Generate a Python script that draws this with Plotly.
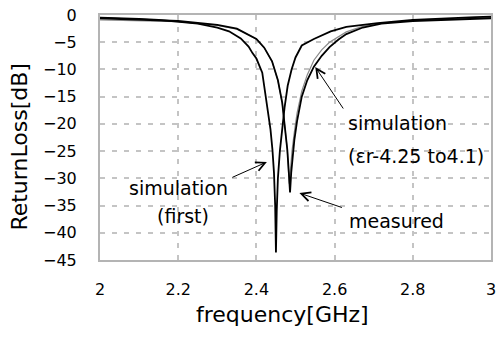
import plotly.graph_objects as go

# Return loss of the antenna: first simulation, re-simulation with lower permittivity, measurement
freq_sim_first = [2.00, 2.05, 2.10, 2.15, 2.20, 2.25, 2.30, 2.33, 2.36, 2.38, 2.39, 2.40,
                  2.415, 2.428, 2.436, 2.441, 2.445, 2.448, 2.450, 2.452, 2.455, 2.460,
                  2.466, 2.472, 2.480, 2.490, 2.500, 2.516, 2.547, 2.59, 2.63, 2.71,
                  2.80, 2.88, 2.96, 3.00]
rl_sim_first = [-0.5, -0.55, -0.7, -0.9, -1.2, -1.6, -2.3, -3.0, -4.3, -5.8, -7.0, -8.0,
                -10.6, -16.8, -21.0, -24.7, -29.0, -35.0, -43.6, -36.0, -30.0, -25.0,
                -21.0, -17.0, -13.0, -10.0, -7.8, -5.6, -4.4, -3.0, -2.2, -1.5,
                -0.9, -0.6, -0.4, -0.3]

freq_sim_er41 = [2.00, 2.10, 2.20, 2.30, 2.35, 2.40, 2.42, 2.44, 2.455, 2.466, 2.473, 2.479,
                 2.482, 2.484, 2.487, 2.491, 2.497, 2.504, 2.516, 2.530, 2.547, 2.567,
                 2.587, 2.61, 2.63, 2.672, 2.72, 2.80, 2.90, 3.00]
rl_sim_er41 = [-0.9, -1.0, -1.2, -1.9, -2.6, -4.4, -6.0, -8.5, -12.0, -16.1, -20.5, -24.7,
               -28.5, -31.0, -28.5, -25.0, -21.5, -18.0, -14.0, -11.0, -8.3, -6.4,
               -5.0, -3.9, -3.1, -2.1, -1.5, -1.0, -0.7, -0.5]

freq_measured = [2.00, 2.10, 2.20, 2.30, 2.35, 2.40, 2.42, 2.44, 2.455, 2.466, 2.473, 2.479,
                 2.483, 2.486, 2.489, 2.493, 2.497, 2.504, 2.516, 2.530, 2.547, 2.567,
                 2.587, 2.61, 2.63, 2.672, 2.72, 2.80, 2.90, 3.00]
rl_measured = [-0.6, -0.8, -1.1, -1.8, -2.5, -4.4, -6.0, -8.5, -12.0, -16.1, -20.5, -24.7,
               -29.0, -32.6, -29.0, -26.0, -23.0, -19.5, -15.0, -12.0, -9.5, -7.5,
               -5.9, -4.5, -3.5, -2.3, -1.6, -1.1, -0.8, -0.6]

x_ticks = [2.0, 2.2, 2.4, 2.6, 2.8, 3.0]
x_tick_text = ["2", "2.2", "2.4", "2.6", "2.8", "3"]
y_ticks = [0, -5, -10, -15, -20, -25, -30, -35, -40, -45]

FONT = "DejaVu Sans"

fig = go.Figure()
fig.add_trace(go.Scatter(x=freq_sim_er41, y=rl_sim_er41, mode="lines",
                         line=dict(color="#8a8a8a", width=1.2), name="simulation (εr 4.1)"))
fig.add_trace(go.Scatter(x=freq_measured, y=rl_measured, mode="lines",
                         line=dict(color="black", width=1.8), name="measured"))
fig.add_trace(go.Scatter(x=freq_sim_first, y=rl_sim_first, mode="lines",
                         line=dict(color="black", width=1.8), name="simulation (first)"))

txt = dict(family=FONT, size=19, color="black")
labels = [
    dict(x=2.76, y=-19.9, text="simulation"),
    dict(x=2.808, y=-25.9, text="(εr-4.25 to4.1)"),
    dict(x=2.2, y=-31.8, text="simulation"),
    dict(x=2.213, y=-37.0, text="(first)"),
    dict(x=2.758, y=-37.8, text="measured"),
]
for lb in labels:
    fig.add_annotation(x=lb["x"], y=lb["y"], text=lb["text"], showarrow=False,
                       font=txt, xanchor="center", yanchor="middle")

arrows = [
    dict(x=2.5505, y=-9.55, ax=29, ay=43),
    dict(x=2.4268, y=-27.0, ax=-36, ay=16),
    dict(x=2.510, y=-32.7, ax=44, ay=15),
]
for ar in arrows:
    fig.add_annotation(x=ar["x"], y=ar["y"], ax=ar["ax"], ay=ar["ay"], text="",
                       showarrow=True, arrowhead=5, arrowsize=1.8, arrowwidth=1,
                       arrowcolor="black")

# axis titles placed as paper-anchored text
title_font = dict(family=FONT, size=22, color="black")
fig.add_annotation(xref="paper", yref="paper", x=0.467, y=-0.224, text="frequency[GHz]",
                   showarrow=False, font=title_font, xanchor="center", yanchor="middle")
fig.add_annotation(xref="paper", yref="paper", x=-0.207, y=0.459, text="ReturnLoss[dB]",
                   showarrow=False, font=title_font, textangle=-90,
                   xanchor="center", yanchor="middle")

grid = dict(showgrid=True, gridcolor="#c4c4c4", gridwidth=1.5, griddash="5px,7px",
            showline=True, linecolor="#b4b4b4", linewidth=2, mirror=True,
            zeroline=False, ticks="", tickfont=dict(family=FONT, size=16, color="black"))

fig.update_xaxes(range=[2, 3], tickvals=x_ticks, ticktext=x_tick_text,
                 ticklabelstandoff=14, ticklabeloverflow="allow", **grid)
fig.update_yaxes(range=[-45, 0], tickvals=y_ticks, ticklabelstandoff=18, **grid)

fig.update_layout(width=498, height=338, margin=dict(l=100, r=2, t=15, b=78),
                  plot_bgcolor="white", paper_bgcolor="white", showlegend=False)

fig.write_html("out.html")
